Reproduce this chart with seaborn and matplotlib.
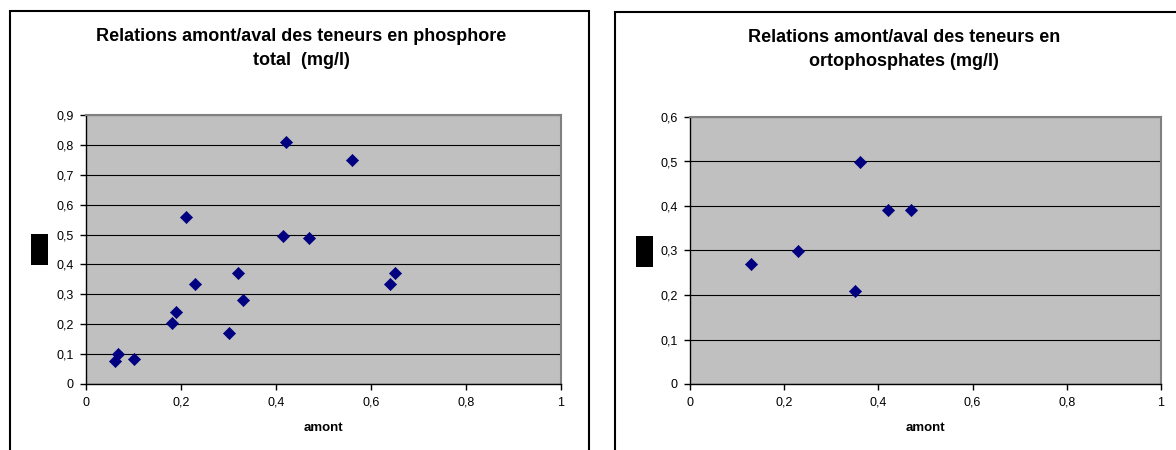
import matplotlib
matplotlib.use("Agg")
import matplotlib.pyplot as plt
import seaborn as sns
import pandas as pd
from matplotlib.patches import Rectangle
from matplotlib.ticker import FuncFormatter, MultipleLocator

# ---- data ----
ptot_amont = [0.42, 0.56, 0.21, 0.415, 0.47, 0.32, 0.65, 0.64, 0.23, 0.33, 0.19, 0.18, 0.30, 0.067, 0.062, 0.10]
ptot_aval = [0.81, 0.75, 0.56, 0.495, 0.49, 0.37, 0.37, 0.333, 0.333, 0.28, 0.24, 0.205, 0.17, 0.10, 0.076, 0.082]
orto_amont = [0.36, 0.42, 0.47, 0.23, 0.13, 0.35]
orto_aval = [0.50, 0.39, 0.39, 0.30, 0.27, 0.21]
title_left = "Relations amont/aval des teneurs en phosphore\ntotal  (mg/l)"
title_right = "Relations amont/aval des teneurs en\nortophosphates (mg/l)"
xlabel = "amont"
ylabel = "aval"

W, H = 1176, 450
plt.rcParams["font.family"] = ["Liberation Sans", "DejaVu Sans"]
fig = plt.figure(figsize=(W / 100, H / 100), dpi=100)


def px_axes(l, t, r, b):
    return fig.add_axes([l / W, 1 - b / H, (r - l) / W, (b - t) / H])


def comma(v, p):
    s = f"{round(v, 1):g}"
    return s.replace(".", ",")


def style(ax, ymax):
    ax.set_facecolor("#C0C0C0")
    ax.set_xlim(0, 1)
    ax.set_ylim(0, ymax)
    ax.xaxis.set_major_locator(MultipleLocator(0.2))
    ax.yaxis.set_major_locator(MultipleLocator(0.1))
    ax.xaxis.set_major_formatter(FuncFormatter(comma))
    ax.yaxis.set_major_formatter(FuncFormatter(comma))
    ax.set_axisbelow(True)
    ax.grid(axis="y", color="black", lw=0.8)
    ax.grid(axis="x", visible=False)
    for s in ("top", "right"):
        ax.spines[s].set_color("#808080")
        ax.spines[s].set_linewidth(1.5)
    for s in ("left", "bottom"):
        ax.spines[s].set_color("black")
        ax.spines[s].set_linewidth(1.0)
    ax.tick_params(axis="both", direction="out", length=4, width=1, labelsize=9, colors="black")
    ax.tick_params(axis="y", pad=5)
    ax.tick_params(axis="x", pad=5)
    ax.set_xlabel(xlabel, fontsize=9.5, fontweight="bold", labelpad=10)
    ax.set_ylabel("")


ax1 = px_axes(86, 115, 561, 384)
ax2 = px_axes(690, 117, 1161, 384)

df1 = pd.DataFrame({"amont": ptot_amont, "aval": ptot_aval})
df2 = pd.DataFrame({"amont": orto_amont, "aval": orto_aval})

for ax, df in [(ax1, df1), (ax2, df2)]:
    sns.scatterplot(data=df, x="amont", y="aval", ax=ax, marker="D", s=38,
                    color="#000080", edgecolor="#000080", linewidth=0.5, zorder=3, clip_on=False)

style(ax1, 0.9)
style(ax2, 0.6)

# titles
fig.text(301 / W, 1 - 48.5 / H, title_left, ha="center", va="center", fontsize=13,
         fontweight="bold", linespacing=1.5)
fig.text(904 / W, 1 - 49.5 / H, title_right, ha="center", va="center", fontsize=13,
         fontweight="bold", linespacing=1.5)

# y-label rendered as black boxes
for (l, t) in [(31, 234), (636, 236)]:
    fig.add_artist(Rectangle((l / W, 1 - (t + 31) / H), 17 / W, 31 / H,
                             transform=fig.transFigure, facecolor="black", edgecolor="none"))
    fig.text((l + 8.5) / W, 1 - (t + 15.5) / H, ylabel, rotation=90, ha="center", va="center",
             fontsize=7, color="black")

# chart borders
fig.add_artist(Rectangle((10 / W, -0.1), (589 - 10) / W, 1.1 - 11 / H,
                         transform=fig.transFigure, facecolor="none", edgecolor="black", lw=1.5))
fig.add_artist(Rectangle((615 / W, -0.1), (1200 - 615) / W, 1.1 - 12 / H,
                         transform=fig.transFigure, facecolor="none", edgecolor="black", lw=1.5,
                         clip_on=False))

fig.savefig("out.png", dpi=100, facecolor="white")
